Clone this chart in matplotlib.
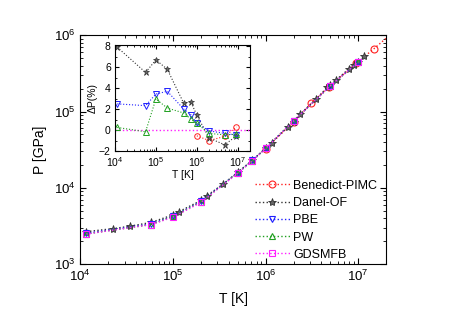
import matplotlib
matplotlib.use('Agg')
import matplotlib.pyplot as plt

plt.rcParams['font.family'] = ['Liberation Sans', 'DejaVu Sans']
plt.rcParams['mathtext.fontset'] = 'custom'
plt.rcParams['mathtext.rm'] = 'Liberation Sans'
plt.rcParams['mathtext.it'] = 'Liberation Sans:italic'
plt.rcParams['mathtext.default'] = 'regular'

# Main panel: pressure vs temperature
T_pimc = [1.0e6, 2.0e6, 3.1e6, 4.8e6, 9.5e6, 1.48e7, 3.0e7]
P_pimc = [3.25e4, 7.3e4, 1.28e5, 2.1e5, 4.3e5, 6.7e5, 1.4e6]

T_of = [1.16e4, 2.26e4, 3.4e4, 5.8e4, 1.0e5, 1.16e5, 2.0e5, 2.3e5, 3.5e5, 5.0e5,
        7.2e5, 1.0e6, 1.16e6, 1.73e6, 2.0e6, 2.35e6, 3.5e6, 4.6e6, 5.0e6, 5.7e6,
        8.0e6, 9.0e6, 1.0e7, 1.16e7]
P_of = [2.65e3, 2.9e3, 3.12e3, 3.5e3, 4.4e3, 4.85e3, 6.8e3, 7.8e3, 1.12e4, 1.6e4,
        2.3e4, 3.3e4, 3.9e4, 6.3e4, 7.4e4, 9.2e4, 1.45e5, 2.07e5, 2.2e5, 2.57e5,
        3.67e5, 4.06e5, 4.45e5, 5.3e5]

T_dft = [1.16e4, 5.8e4, 1.0e5, 2.0e5, 5.0e5, 7.2e5, 1.0e6, 2.0e6, 5.0e6, 1.0e7]
P_pbe = [2.52e3, 3.35e3, 4.25e3, 6.6e3, 1.58e4, 2.28e4, 3.3e4, 7.5e4, 2.18e5, 4.45e5]
P_pw = [2.47e3, 3.28e3, 4.2e3, 6.5e3, 1.57e4, 2.27e4, 3.3e4, 7.5e4, 2.18e5, 4.45e5]
P_gds = [2.46e3, 3.28e3, 4.1e3, 6.4e3, 1.55e4, 2.25e4, 3.28e4, 7.5e4, 2.19e5, 4.47e5]

# Inset: relative deviation from GDSMFB
Tin_pimc = [1.0e6, 2.0e6, 4.8e6, 9.3e6]
dP_pimc = [-0.55, -1.0, -0.6, 0.3]
Tin = [1.14e4, 5.6e4, 1.0e5, 1.9e5, 4.8e5, 7.1e5, 1.0e6, 2.0e6, 4.8e6, 9.3e6]
dP_of = [7.9, 5.5, 6.7, 5.8, 2.55, 2.7, 1.43, -0.77, -1.4, -0.55]
dP_pbe = [2.5, 2.33, 3.44, 3.7, 2.0, 1.47, 0.64, -0.07, -0.32, -0.48]
dP_pw = [0.25, -0.16, 2.97, 2.1, 1.63, 1.05, 0.63, -0.32, -0.45, -0.4]

RED, BLACK, BLUE, GREEN, MAG = '#ff2020', '#333333', '#2020ff', '#20a020', '#ff20ff'

fig = plt.figure(figsize=(4.49, 3.16), dpi=100)
ax = fig.add_axes([0.179, 0.165, 0.681, 0.723])

ax.plot(T_pimc, P_pimc, ls=':', color=RED, marker='o', ms=5, mfc='none', mec=RED,
        mew=0.8, lw=1, label='Benedict-PIMC')
ax.plot(T_of, P_of, ls=':', color=BLACK, marker='*', ms=6, mfc='#666666', mec=BLACK,
        mew=0.6, lw=1, label='Danel-OF')
ax.plot(T_dft, P_pbe, ls=':', color=BLUE, marker='v', ms=5, mfc='none', mec=BLUE,
        mew=0.8, lw=1, label='PBE')
ax.plot(T_dft, P_pw, ls=':', color=GREEN, marker='^', ms=5, mfc='none', mec=GREEN,
        mew=0.8, lw=1, label='PW')
ax.plot(T_dft, P_gds, ls=':', color=MAG, marker='s', ms=4.5, mfc='none', mec=MAG,
        mew=0.8, lw=1, label='GDSMFB')

ax.set_xscale('log')
ax.set_yscale('log')
ax.set_xlim(1e4, 2e7)
ax.set_ylim(1e3, 1e6)
ax.set_xlabel('T [K]', fontsize=10, labelpad=6)
ax.set_ylabel('P [GPa]', fontsize=10, labelpad=5)
ax.tick_params(which='both', direction='in', top=True, right=True, labelsize=9.5)
ax.tick_params(which='major', length=4, pad=3.5)
ax.tick_params(which='minor', length=2)

leg = ax.legend(loc='lower right', bbox_to_anchor=(1.0, -0.025), frameon=False,
                fontsize=9, handlelength=2.8, handletextpad=0.3,
                labelspacing=0.42, borderaxespad=0.3)

# Inset
axi = fig.add_axes([0.256, 0.522, 0.301, 0.335])
axi.axhline(0, ls=':', color=MAG, lw=1)
axi.plot(Tin_pimc, dP_pimc, ls=':', color=RED, marker='o', ms=4, mfc='none', mec=RED,
         mew=0.7, lw=0.8)
axi.plot(Tin, dP_of, ls=':', color=BLACK, marker='*', ms=5, mfc='#666666', mec=BLACK,
         mew=0.5, lw=0.8)
axi.plot(Tin, dP_pbe, ls=':', color=BLUE, marker='v', ms=4, mfc='none', mec=BLUE,
         mew=0.7, lw=0.8)
axi.plot(Tin, dP_pw, ls=':', color=GREEN, marker='^', ms=4, mfc='none', mec=GREEN,
         mew=0.7, lw=0.8)
axi.set_xscale('log')
axi.set_xlim(1e4, 2e7)
axi.set_ylim(-2, 8.1)
axi.set_yticks([-2, 0, 2, 4, 6, 8])
axi.set_yticks([-1, 1, 3, 5, 7], minor=True)
axi.set_xlabel('T [K]', fontsize=7.5, labelpad=1)
axi.set_ylabel('ΔP(%)', fontsize=7.5, labelpad=1)
axi.tick_params(which='both', direction='in', top=True, right=True, labelsize=7.5)
axi.tick_params(which='major', length=3, pad=3)
axi.tick_params(which='minor', length=1.5)

fig.savefig('out.png', dpi=100)
